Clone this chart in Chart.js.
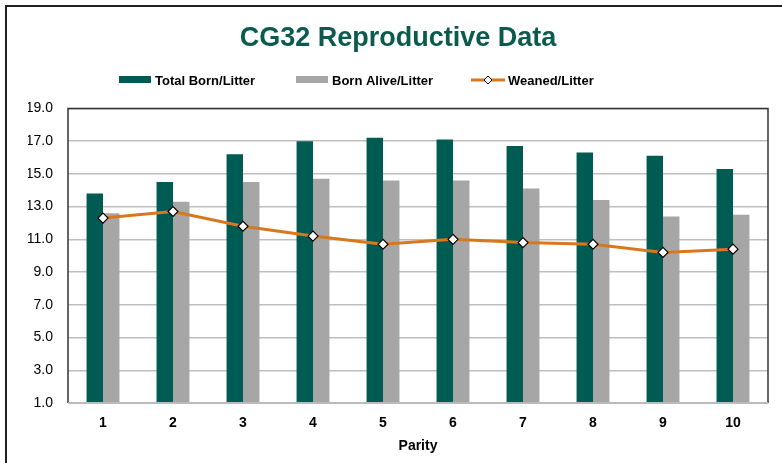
<!DOCTYPE html>
<html>
<head>
<meta charset="utf-8">
<title>CG32 Reproductive Data</title>
<script src="https://cdn.jsdelivr.net/npm/chart.js@4"></script>
<style>
  html, body { margin: 0; padding: 0; background: #fff; }
  #wrap { width: 782px; height: 463px; position: relative; }
</style>
</head>
<body>
<div id="wrap"><canvas id="chart" width="782" height="463"></canvas></div>
<script>
// Data
const parity = ['1', '2', '3', '4', '5', '6', '7', '8', '9', '10'];
const totalBorn = [13.8, 14.5, 16.2, 17.0, 17.2, 17.1, 16.7, 16.3, 16.1, 15.3];
const bornAlive = [12.6, 13.3, 14.5, 14.7, 14.6, 14.6, 14.1, 13.4, 12.4, 12.5];
const weaned = [12.3, 12.7, 11.8, 11.2, 10.7, 11.0, 10.8, 10.7, 10.2, 10.4];
const yTicks = [1, 3, 5, 7, 9, 11, 13, 15, 17, 19];

const teal = '#005C52';
const grey = '#A6A6A6';
const orange = '#D7781F';
const font = 'Arial, "Liberation Sans", Helvetica, sans-serif';

// Legend drawn by hand so the spacing looks like the original
const legendPlugin = {
    id: 'customLegend',
    afterDraw(chart) {
        const ctx = chart.ctx;
        const y = 80;
        const items = [
            { x: 119, label: 'Total Born/Litter', type: 'bar', color: teal },
            { x: 296, label: 'Born Alive/Litter', type: 'bar', color: grey },
            { x: 471, label: 'Weaned/Litter', type: 'line', color: orange }
        ];
        ctx.save();
        ctx.font = 'bold 13px ' + font;
        ctx.textBaseline = 'middle';
        items.forEach(it => {
            if (it.type === 'bar') {
                ctx.fillStyle = it.color;
                ctx.fillRect(it.x, y - 4, 32, 7);
            } else {
                ctx.strokeStyle = it.color;
                ctx.lineWidth = 3;
                ctx.beginPath();
                ctx.moveTo(it.x, y);
                ctx.lineTo(it.x + 34, y);
                ctx.stroke();
                const cx = it.x + 17;
                ctx.beginPath();
                ctx.moveTo(cx, y - 4);
                ctx.lineTo(cx + 4, y);
                ctx.lineTo(cx, y + 4);
                ctx.lineTo(cx - 4, y);
                ctx.closePath();
                ctx.fillStyle = '#fff';
                ctx.fill();
                ctx.strokeStyle = '#000';
                ctx.lineWidth = 1;
                ctx.stroke();
            }
            ctx.fillStyle = '#000';
            ctx.fillText(it.label, it.x + (it.type === 'bar' ? 36 : 37), y + 1);
        });
        ctx.restore();
    }
};

// Frame around the whole picture and plot area
const framePlugin = {
    id: 'frame',
    beforeDraw(chart) {
        const ctx = chart.ctx;
        ctx.save();
        ctx.fillStyle = '#fff';
        ctx.fillRect(0, 0, chart.width, chart.height);
        ctx.strokeStyle = '#222';
        ctx.lineWidth = 2;
        ctx.beginPath();
        ctx.moveTo(6, chart.height);
        ctx.lineTo(6, 6);
        ctx.lineTo(chart.width, 6);
        ctx.stroke();
        ctx.restore();
    },
    afterDatasetsDraw(chart) {
        const a = chart.chartArea;
        const ctx = chart.ctx;
        ctx.save();
        ctx.strokeStyle = '#333';
        ctx.lineWidth = 1.5;
        ctx.beginPath();
        ctx.moveTo(a.left, a.bottom);
        ctx.lineTo(a.left, a.top);
        ctx.lineTo(a.right, a.top);
        ctx.lineTo(a.right, a.bottom);
        ctx.stroke();
        ctx.strokeStyle = '#BBBBBB';
        ctx.lineWidth = 2;
        ctx.beginPath();
        ctx.moveTo(a.left, a.bottom);
        ctx.lineTo(a.right, a.bottom);
        ctx.stroke();
        ctx.restore();
    }
};

new Chart(document.getElementById('chart'), {
    data: {
        labels: parity,
        datasets: [
            {
                type: 'line',
                label: 'Weaned/Litter',
                data: weaned,
                borderColor: orange,
                borderWidth: 3,
                pointStyle: 'rectRot',
                pointRadius: 5,
                pointBackgroundColor: '#fff',
                pointBorderColor: '#000',
                pointBorderWidth: 1.2,
                tension: 0,
                order: 0
            },
            {
                type: 'bar',
                label: 'Total Born/Litter',
                data: totalBorn,
                backgroundColor: teal,
                categoryPercentage: 0.47,
                barPercentage: 1.0,
                order: 1
            },
            {
                type: 'bar',
                label: 'Born Alive/Litter',
                data: bornAlive,
                backgroundColor: grey,
                categoryPercentage: 0.47,
                barPercentage: 1.0,
                order: 1
            }
        ]
    },
    options: {
        responsive: false,
        animation: false,
        layout: { padding: { left: 28, right: 14, top: 0, bottom: 8 } },
        plugins: {
            legend: { display: false },
            tooltip: { enabled: false },
            title: {
                display: true,
                text: 'CG32 Reproductive Data',
                color: '#0B5A4E',
                font: { family: font, size: 27, weight: 'bold' },
                padding: { top: 22, bottom: 54 }
            }
        },
        scales: {
            x: {
                grid: { display: false, drawTicks: false },
                border: { display: false },
                afterFit(scale) { scale.height = 52; },
                ticks: {
                    color: '#000',
                    padding: 12,
                    font: { family: font, size: 14, weight: 'bold' }
                },
                title: {
                    display: true,
                    text: 'Parity',
                    color: '#000',
                    font: { family: font, size: 14, weight: 'bold' },
                    padding: { top: 4, bottom: 0 }
                }
            },
            y: {
                min: 1,
                max: 19,
                afterBuildTicks(scale) {
                    scale.ticks = yTicks.map(v => ({ value: v }));
                },
                afterFit(scale) { scale.width = 40; },
                grid: { color: '#BFBFBF', lineWidth: 1.5, drawTicks: false },
                border: { display: false },
                ticks: {
                    color: '#000',
                    padding: 15,
                    font: { family: font, size: 14 },
                    callback: v => Number(v).toFixed(1)
                }
            }
        }
    },
    plugins: [framePlugin, legendPlugin]
});
</script>
</body>
</html>
